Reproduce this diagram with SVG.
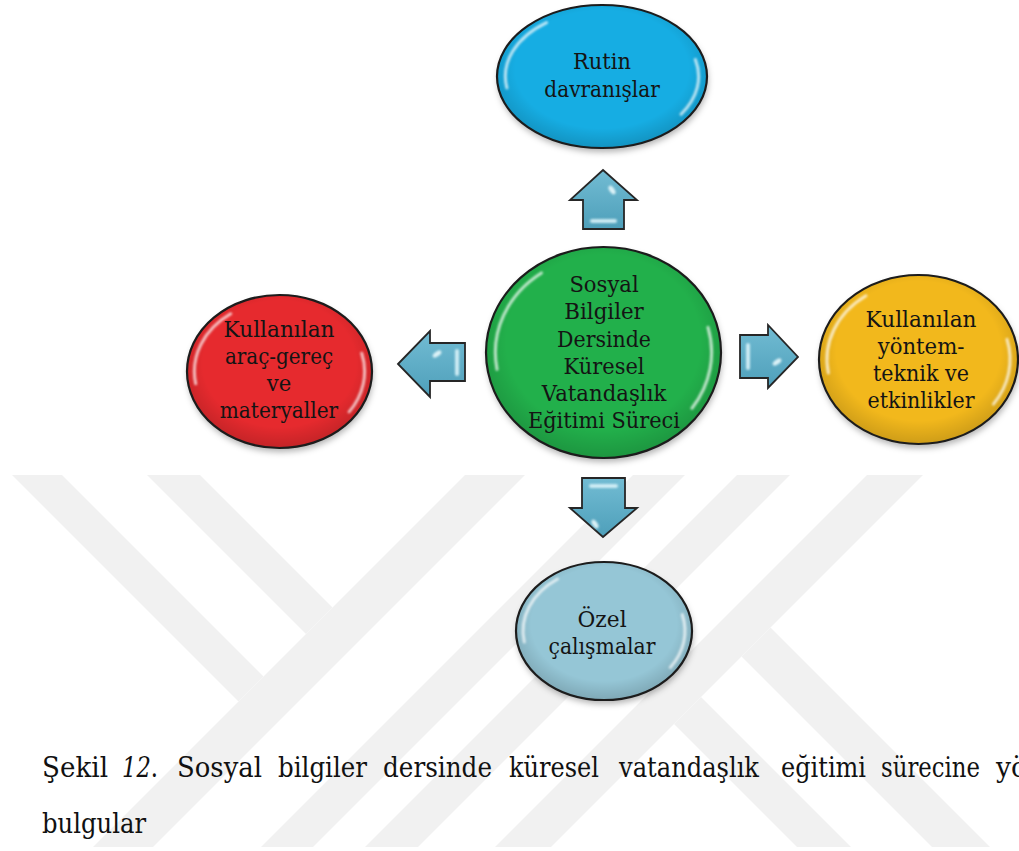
<svg xmlns="http://www.w3.org/2000/svg" xmlns:xlink="http://www.w3.org/1999/xlink" width="1019" height="851" viewBox="0 0 1019 851">
  <style>
    text { font-family: 'DejaVu Serif', serif; }
    .lbl { font-size: 23px; fill: #141414; }
    .cap { font-size: 27.5px; fill: #111111; }
    .rim { fill: none; stroke: #1c1c1c; stroke-width: 2.2; }
    .gloss { fill: none; stroke: #ffffff; stroke-width: 3; stroke-linecap: round; stroke-opacity: 0.7; }
    .arrow { fill: url(#arrowFill); stroke: #262626; stroke-width: 1.8; stroke-linejoin: miter; }
    .shine { stroke: #d8f2f8; stroke-width: 4; stroke-linecap: round; fill: none; opacity: 0.9; }
    .spot { fill: #e8f8fc; opacity: 0.9; }
    .wm polygon { fill: #f1f1f1; }
  </style>
  <defs>
    <filter id="drop" x="-20%" y="-20%" width="140%" height="150%">
      <feDropShadow dx="1" dy="4" stdDeviation="3" flood-color="#000000" flood-opacity="0.3"/>
    </filter>
    <filter id="soft" x="-20%" y="-20%" width="140%" height="140%">
      <feGaussianBlur stdDeviation="1.1"/>
    </filter>
    <radialGradient id="shade" cx="50%" cy="45%" r="55%">
      <stop offset="0.75" stop-color="#000000" stop-opacity="0"/>
      <stop offset="1" stop-color="#000000" stop-opacity="0.15"/>
    </radialGradient>
    <linearGradient id="arrowFill" x1="0" y1="0" x2="0" y2="1">
      <stop offset="0" stop-color="#72bcd3"/>
      <stop offset="1" stop-color="#4e9fba"/>
    </linearGradient>
    <!-- unit-circle gloss arcs, scaled per ellipse -->
    <path id="gloss" vector-effect="non-scaling-stroke" d="M -0.528 -0.754 A 0.92 0.92 0 0 0 -0.906 0.160 M 0.889 -0.238 A 0.92 0.92 0 0 1 0.753 0.528"/>
    <clipPath id="wmClip">
      <rect x="0" y="475" width="1019" height="372"/>
    </clipPath>
  </defs>

  <rect x="0" y="0" width="1019" height="851" fill="#ffffff"/>

  <!-- background watermark bands -->
  <g id="watermark" class="wm" clip-path="url(#wmClip)">
    <polygon points="-63,400 -13,400 263.5,676.5 238.5,701.5"/>
    <polygon points="72,400 125,400 332.5,607.5 306,634"/>
    <polygon points="540,400 600,400 100,900 40,900"/>
    <polygon points="708,400 760,400 260,900 208,900"/>
    <polygon points="812,400 865,400 365,900 312,900"/>
    <polygon points="942,400 998,400 498,900 442,900"/>
    <polygon points="770.5,627.5 1043,900 985,900 741.5,656.5"/>
    <polygon points="701,697 904,900 850,900 674,724"/>
  </g>

  <!-- block arrows from the centre outwards -->
  <g id="connectors">
    <g id="arrow-up">
      <polygon class="arrow" points="603,170 637,200 624,200 624,229 583,229 583,200 570,200"/>
      <g filter="url(#soft)">
        <line class="shine" x1="592" y1="221" x2="615" y2="221"/>
        <ellipse class="spot" cx="612" cy="190" rx="2.5" ry="5" transform="rotate(-35 612 190)"/>
      </g>
    </g>
    <g id="arrow-left">
      <polygon class="arrow" points="398,364 430,331 430,343 465,343 465,381 430,381 430,397"/>
      <g filter="url(#soft)">
        <line class="shine" x1="457" y1="351" x2="457" y2="374"/>
        <ellipse class="spot" cx="437" cy="354" rx="5" ry="2.5" transform="rotate(-35 437 354)"/>
      </g>
    </g>
    <g id="arrow-right">
      <polygon class="arrow" points="740,335 768,335 768,325 798,357 768,388 768,378 740,378"/>
      <g filter="url(#soft)">
        <line class="shine" x1="748" y1="345" x2="748" y2="368"/>
        <ellipse class="spot" cx="777" cy="362" rx="5" ry="2.5" transform="rotate(-35 777 362)"/>
      </g>
    </g>
    <g id="arrow-down">
      <polygon class="arrow" points="582,478 625,478 625,508 637,508 603,537 570,508 582,508"/>
      <g filter="url(#soft)">
        <line class="shine" x1="591" y1="486" x2="616" y2="486"/>
        <ellipse class="spot" cx="595" cy="524" rx="2.5" ry="5" transform="rotate(-35 595 524)"/>
      </g>
    </g>
  </g>

  <g id="node-center">
    <ellipse cx="603.5" cy="352.5" rx="117.5" ry="105.5" fill="#21b04b" filter="url(#drop)"/>
    <ellipse cx="603.5" cy="352.5" rx="117.5" ry="105.5" fill="url(#shade)"/>
    <g filter="url(#soft)"><use xlink:href="#gloss" class="gloss" transform="translate(603.5 352.5) scale(117.5 105.5)"/></g>
    <ellipse class="rim" cx="603.5" cy="352.5" rx="117.5" ry="105.5"/>
    <text class="lbl" x="569.4" y="292" textLength="69.3" lengthAdjust="spacingAndGlyphs">Sosyal</text>
    <text class="lbl" x="564.3" y="319" textLength="79.5" lengthAdjust="spacingAndGlyphs">Bilgiler</text>
    <text class="lbl" x="557.1" y="346.5" textLength="93.9" lengthAdjust="spacingAndGlyphs">Dersinde</text>
    <text class="lbl" x="563.6" y="373.5" textLength="80.9" lengthAdjust="spacingAndGlyphs">Küresel</text>
    <text class="lbl" x="541.8" y="401" textLength="124.5" lengthAdjust="spacingAndGlyphs">Vatandaşlık</text>
    <text class="lbl" x="528" y="428" textLength="152" lengthAdjust="spacingAndGlyphs">Eğitimi Süreci</text>
  </g>

  <g id="node-rutin">
    <ellipse cx="602" cy="76.5" rx="105" ry="71.5" fill="#15ade3" filter="url(#drop)"/>
    <ellipse cx="602" cy="76.5" rx="105" ry="71.5" fill="url(#shade)"/>
    <g filter="url(#soft)"><use xlink:href="#gloss" class="gloss" transform="translate(602 76.5) scale(105 71.5)"/></g>
    <ellipse class="rim" cx="602" cy="76.5" rx="105" ry="71.5"/>
    <text class="lbl" x="573.1" y="69" textLength="57.8" lengthAdjust="spacingAndGlyphs">Rutin</text>
    <text class="lbl" x="544.3" y="97" textLength="115.5" lengthAdjust="spacingAndGlyphs">davranışlar</text>
  </g>

  <g id="node-arac">
    <ellipse cx="279.5" cy="371.5" rx="92.5" ry="76.5" fill="#e62b2d" filter="url(#drop)"/>
    <ellipse cx="279.5" cy="371.5" rx="92.5" ry="76.5" fill="url(#shade)"/>
    <g filter="url(#soft)"><use xlink:href="#gloss" class="gloss" transform="translate(279.5 371.5) scale(92.5 76.5)"/></g>
    <ellipse class="rim" cx="279.5" cy="371.5" rx="92.5" ry="76.5"/>
    <text class="lbl" x="223.5" y="337" textLength="111" lengthAdjust="spacingAndGlyphs">Kullanılan</text>
    <text class="lbl" x="224.9" y="364" textLength="108.2" lengthAdjust="spacingAndGlyphs">araç-gereç</text>
    <text class="lbl" x="266.8" y="391" textLength="24.5" lengthAdjust="spacingAndGlyphs">ve</text>
    <text class="lbl" x="219.8" y="418" textLength="118.4" lengthAdjust="spacingAndGlyphs">materyaller</text>
  </g>

  <g id="node-yontem">
    <ellipse cx="918.5" cy="359.5" rx="99.5" ry="84.5" fill="#f2b81e" filter="url(#drop)"/>
    <ellipse cx="918.5" cy="359.5" rx="99.5" ry="84.5" fill="url(#shade)"/>
    <g filter="url(#soft)"><use xlink:href="#gloss" class="gloss" transform="translate(918.5 359.5) scale(99.5 84.5)"/></g>
    <ellipse class="rim" cx="918.5" cy="359.5" rx="99.5" ry="84.5"/>
    <text class="lbl" x="865.5" y="327" textLength="111" lengthAdjust="spacingAndGlyphs">Kullanılan</text>
    <text class="lbl" x="877.7" y="354" textLength="86.7" lengthAdjust="spacingAndGlyphs">yöntem-</text>
    <text class="lbl" x="873" y="381" textLength="96" lengthAdjust="spacingAndGlyphs">teknik ve</text>
    <text class="lbl" x="867.5" y="408" textLength="107" lengthAdjust="spacingAndGlyphs">etkinlikler</text>
  </g>

  <g id="node-ozel">
    <ellipse cx="604" cy="631" rx="88" ry="69" fill="#95c6d6" filter="url(#drop)"/>
    <ellipse cx="604" cy="631" rx="88" ry="69" fill="url(#shade)"/>
    <g filter="url(#soft)"><use xlink:href="#gloss" class="gloss" transform="translate(604 631) scale(88 69)"/></g>
    <ellipse class="rim" cx="604" cy="631" rx="88" ry="69"/>
    <text class="lbl" x="577.5" y="627" textLength="49.1" lengthAdjust="spacingAndGlyphs">Özel</text>
    <text class="lbl" x="548.5" y="654" textLength="107" lengthAdjust="spacingAndGlyphs">çalışmalar</text>
  </g>

  <!-- figure caption, justified line set word by word -->
  <g id="caption">
    <text class="cap" x="42" y="777" textLength="66" lengthAdjust="spacingAndGlyphs">Şekil</text>
    <text class="cap" x="122" y="777" textLength="36" lengthAdjust="spacingAndGlyphs"><tspan font-style="italic">12</tspan>.</text>
    <text class="cap" x="177" y="777" textLength="85" lengthAdjust="spacingAndGlyphs">Sosyal</text>
    <text class="cap" x="278" y="777" textLength="89" lengthAdjust="spacingAndGlyphs">bilgiler</text>
    <text class="cap" x="383" y="777" textLength="109" lengthAdjust="spacingAndGlyphs">dersinde</text>
    <text class="cap" x="509" y="777" textLength="90" lengthAdjust="spacingAndGlyphs">küresel</text>
    <text class="cap" x="619" y="777" textLength="140" lengthAdjust="spacingAndGlyphs">vatandaşlık</text>
    <text class="cap" x="781" y="777" textLength="85" lengthAdjust="spacingAndGlyphs">eğitimi</text>
    <text class="cap" x="881" y="777" textLength="99" lengthAdjust="spacingAndGlyphs">sürecine</text>
    <text class="cap" x="996" y="777" textLength="31" lengthAdjust="spacingAndGlyphs">yö</text>
    <text class="cap" x="42" y="833" textLength="104" lengthAdjust="spacingAndGlyphs">bulgular</text>
  </g>
</svg>
